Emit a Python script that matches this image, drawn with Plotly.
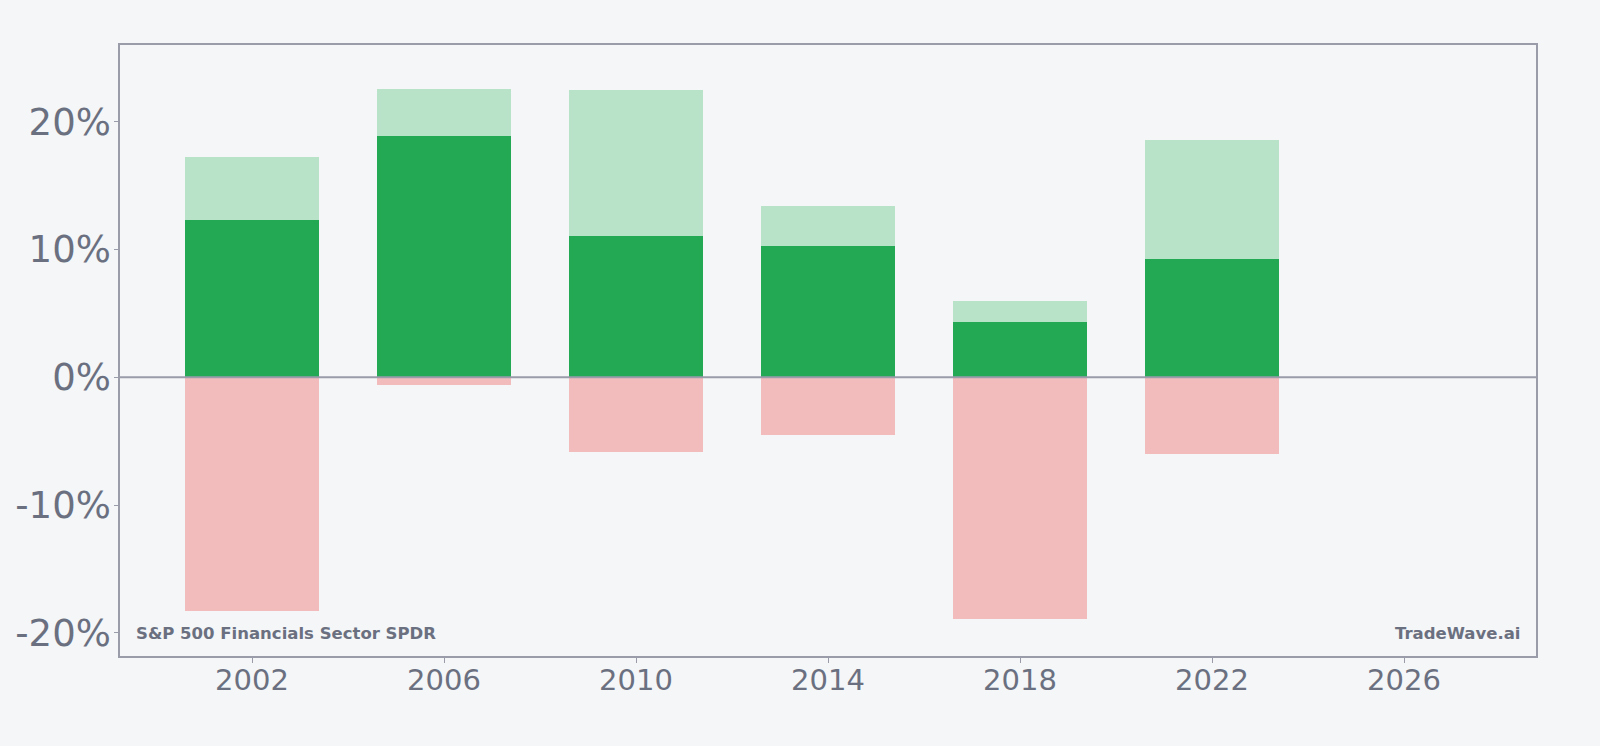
import plotly.graph_objects as go

years = [2002, 2006, 2010, 2014, 2018, 2022]
max_gain = [17.27, 22.58, 22.5, 13.43, 5.94, 18.6]
period_return = [12.34, 18.9, 11.04, 10.24, 4.3, 9.28]
max_drawdown = [-18.26, -0.6, -5.86, -4.5, -18.94, -6.02]

y_tick_vals = [-20, -10, 0, 10, 20]
y_tick_text = ["-20%", "-10%", "0%", "10%", "20%"]
x_tick_vals = [2002, 2006, 2010, 2014, 2018, 2022, 2026]
x_tick_text = ["2002", "2006", "2010", "2014", "2018", "2022", "2026"]

BG = "#f4f6f8"
AXIS = "#9a9caa"
TXT = "#6b7080"
FONT = "DejaVu Sans"

fig = go.Figure()
fig.add_bar(x=years, y=max_gain, width=2.8, marker=dict(color="#b8e3c9", line=dict(width=0)),
            name="Max gain")
fig.add_bar(x=years, y=period_return, width=2.8, marker=dict(color="#23a854", line=dict(width=0)),
            name="Return")
fig.add_bar(x=years, y=max_drawdown, width=2.8, marker=dict(color="#f3bcbc", line=dict(width=0)),
            name="Max drawdown")

fig.add_shape(type="line", xref="paper", yref="y", x0=0, x1=1, y0=0, y1=0,
              line=dict(color=AXIS, width=2), layer="above")

fig.add_annotation(text="<b>S&P 500 Financials Sector SPDR</b>", xref="paper", yref="paper",
                   x=0.01, y=0.018, xanchor="left", yanchor="bottom", showarrow=False,
                   font=dict(family=FONT, size=16.5, color=TXT))
fig.add_annotation(text="<b>TradeWave.ai</b>", xref="paper", yref="paper",
                   x=0.99, y=0.018, xanchor="right", yanchor="bottom", showarrow=False,
                   font=dict(family=FONT, size=16.5, color=TXT))

fig.update_layout(
    width=1600, height=746,
    margin=dict(l=120, r=64, t=45, b=90),
    paper_bgcolor=BG, plot_bgcolor=BG,
    barmode="overlay", bargap=0,
    showlegend=False,
    font=dict(family=FONT, color=TXT),
)
fig.update_xaxes(range=[1999.25, 2028.75], tickvals=x_tick_vals, ticktext=x_tick_text,
                 showgrid=False, zeroline=False, showline=True, mirror=True,
                 linecolor=AXIS, linewidth=1.5, ticks="outside", ticklen=5, tickcolor=AXIS,
                 ticklabelstandoff=-8,
                 tickfont=dict(family=FONT, size=29, color=TXT))
fig.update_yaxes(range=[-21.8, 26], tickvals=y_tick_vals, ticktext=y_tick_text,
                 showgrid=False, zeroline=False, showline=True, mirror=True,
                 linecolor=AXIS, linewidth=1.5, ticks="outside", ticklen=4, tickcolor=AXIS,
                 ticklabelstandoff=-4,
                 tickfont=dict(family=FONT, size=37, color=TXT))

fig.write_html("out.html")
